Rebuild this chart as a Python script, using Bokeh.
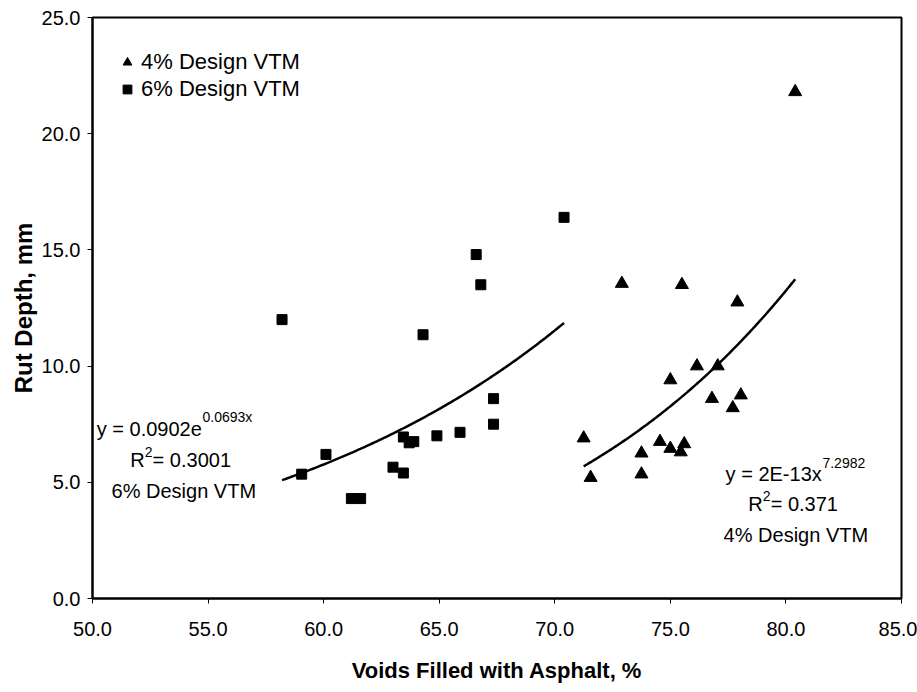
import numpy as np
from bokeh.plotting import figure
from bokeh.models import (Range1d, FixedTicker, NumeralTickFormatter, Label,
                          Legend, LegendItem)
from bokeh.embed import file_html
from bokeh.resources import INLINE

# Voids filled with asphalt (%) and rut depth (mm), 6% design VTM mixes
vfa_6 = [58.2, 59.05, 60.1, 61.2, 61.6, 63.0, 63.45, 63.45, 63.7, 63.9,
         64.3, 64.9, 65.9, 66.6, 66.8, 67.35, 67.35, 70.4]
rut_6 = [12.0, 5.35, 6.2, 4.3, 4.3, 5.65, 5.4, 6.95, 6.7, 6.75,
         11.35, 7.0, 7.15, 14.8, 13.5, 8.6, 7.5, 16.4]

# 4% design VTM mixes
vfa_4 = [71.25, 71.55, 72.9, 73.75, 73.75, 74.55, 75.0, 75.0, 75.45, 75.5,
         75.6, 76.15, 76.8, 77.05, 77.7, 77.9, 78.05, 80.4]
rut_4 = [6.9, 5.2, 13.55, 6.25, 5.35, 6.75, 9.4, 6.45, 6.3, 13.5,
         6.65, 10.0, 8.6, 10.0, 8.2, 12.75, 8.75, 21.8]

x_ticks = [50, 55, 60, 65, 70, 75, 80, 85]
y_ticks = [0, 5, 10, 15, 20, 25]

# Trendlines: exponential for 6%, power for 4%
# (power coefficient is printed rounded as 2E-13 in its label)
exp_a, exp_b = 0.0902, 0.0693
pow_a, pow_b = 1.71e-13, 7.2982

FONT = "Liberation Sans"

p = figure(width=917, height=692, output_backend="svg", toolbar_location=None,
           x_range=Range1d(50, 85), y_range=Range1d(0, 25),
           min_border_left=92, min_border_right=16, min_border_top=17,
           min_border_bottom=94)

p.xgrid.visible = False
p.ygrid.visible = False
p.outline_line_color = "black"
p.outline_line_width = 2
p.background_fill_color = "white"
p.border_fill_color = "white"

for ax in (p.xaxis[0], p.yaxis[0]):
    ax.formatter = NumeralTickFormatter(format="0.0")
    ax.axis_line_color = "black"
    ax.axis_line_width = 2
    ax.major_tick_line_color = "black"
    ax.major_tick_line_width = 1
    ax.major_tick_in = 0
    ax.major_tick_out = 5
    ax.minor_tick_line_color = None
    ax.major_label_text_font = FONT
    ax.major_label_text_font_size = "20px"
    ax.major_label_text_color = "black"
    ax.axis_label_text_font = FONT
    ax.axis_label_text_font_style = "bold"
    ax.axis_label_text_color = "black"

p.xaxis[0].ticker = FixedTicker(ticks=x_ticks)
p.yaxis[0].ticker = FixedTicker(ticks=y_ticks)
p.xaxis[0].axis_label = "Voids Filled with Asphalt, %"
p.yaxis[0].axis_label = "Rut Depth, mm"
p.xaxis[0].axis_label_text_font_size = "22px"
p.yaxis[0].axis_label_text_font_size = "24px"
p.xaxis[0].major_label_standoff = 18
p.xaxis[0].axis_label_standoff = 19
p.yaxis[0].major_label_standoff = 7
p.yaxis[0].axis_label_standoff = 2

# Trend curves over each series' own range
x6 = np.linspace(min(vfa_6), max(vfa_6), 120)
x4 = np.linspace(min(vfa_4), max(vfa_4), 120)
p.line(x6, exp_a * np.exp(exp_b * x6), line_color="black", line_width=2.5)
p.line(x4, pow_a * np.power(x4, pow_b), line_color="black", line_width=2.5)

r4 = p.scatter(vfa_4, rut_4, marker="triangle", size=13,
               fill_color="black", line_color="black")
r6 = p.scatter(vfa_6, rut_6, marker="square", size=10,
               fill_color="black", line_color="black")

legend = Legend(items=[LegendItem(label="4% Design VTM", renderers=[r4]),
                       LegendItem(label="6% Design VTM", renderers=[r6])],
                location=(24, 496), padding=0, margin=0, spacing=1,
                glyph_width=22, glyph_height=22, label_standoff=3,
                label_text_font=FONT, label_text_font_size="22px",
                label_text_color="black", border_line_alpha=0,
                background_fill_alpha=0)
p.add_layout(legend)


def label(x, y, text, size="20px", align="left"):
    p.add_layout(Label(x=x, y=y, text=text, text_font=FONT,
                       text_font_size=size, text_color="black",
                       text_align=align, text_baseline="alphabetic"))


# 6% design VTM trendline annotation
label(54.73, 7.30, "y = 0.0902e", align="right")
label(54.76, 7.80, "0.0693x", size="14px")
label(52.26, 5.96, "R", align="right")
label(52.26, 6.32, "2", size="14px")
label(52.60, 5.96, "= 0.3001")
label(53.95, 4.64, "6% Design VTM", align="center")

# 4% design VTM trendline annotation
label(81.55, 5.36, "y = 2E-13x", align="right")
label(81.58, 5.84, "7.2982", size="14px")
label(79.00, 4.07, "R", align="right")
label(79.00, 4.43, "2", size="14px")
label(79.34, 4.07, "= 0.371")
label(80.43, 2.74, "4% Design VTM", align="center")

open("out.html", "w").write(file_html(p, INLINE))
